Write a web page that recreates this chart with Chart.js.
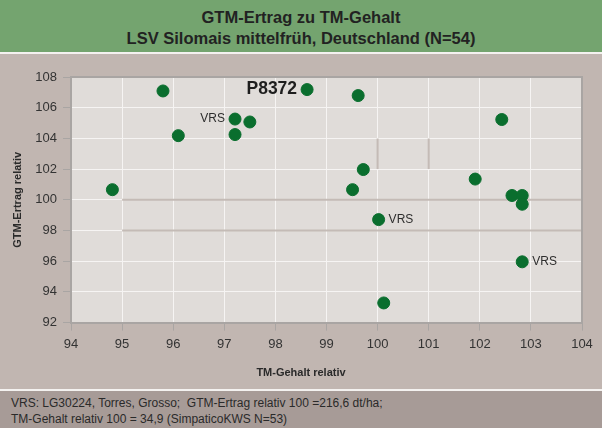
<!DOCTYPE html>
<html>
<head>
<meta charset="utf-8">
<script src="https://cdn.jsdelivr.net/npm/chart.js@4/dist/chart.umd.min.js"></script>
<style>
  html, body { margin: 0; padding: 0; }
  body { width: 602px; height: 428px; position: relative; overflow: hidden; background: #c1b6b1; font-family: "Liberation Sans", Arial, sans-serif; }
  #head { position: absolute; left: 0; top: 0; width: 602px; height: 52px; background: #74a46f; color: #222; font-weight: bold; font-size: 16.5px; line-height: 21px; text-align: center; box-sizing: border-box; padding-top: 7px; }
  #sep1 { position: absolute; left: 0; top: 52px; width: 602px; height: 2px; background: #f4f2f0; }
  #wrap { position: absolute; left: 0; top: 54px; width: 602px; height: 335px; background: #c1b6b1; }
  #sep2 { position: absolute; left: 0; top: 389px; width: 602px; height: 2px; background: #f4f2f0; }
  #foot { position: absolute; left: 0; top: 391px; width: 602px; height: 37px; background: #a79b97; color: #2a2a2a; font-size: 12px; line-height: 16px; padding-left: 11px; box-sizing: border-box; padding-top: 4px; white-space: pre; }
  #xtitle { position: absolute; left: 0; width: 602px; top: 366px; text-align: center; font-weight: bold; font-size: 11px; color: #2a2a2a; }
</style>
</head>
<body>
<div id="head">GTM-Ertrag zu TM-Gehalt<br>LSV Silomais mittelfrüh, Deutschland (N=54)</div>
<div id="sep1"></div>
<div id="wrap"><canvas id="c" width="602" height="335"></canvas></div>
<div id="xtitle">TM-Gehalt relativ</div>
<div id="sep2"></div>
<div id="foot">VRS: LG30224, Torres, Grosso;  GTM-Ertrag relativ 100 =216,6 dt/ha;
TM-Gehalt relativ 100 = 34,9 (SimpaticoKWS N=53)</div>
<script>
// ---- data ----
const tmGehalt  = [94.81, 95.80, 96.10, 97.21, 97.21, 97.50, 98.62, 99.62, 99.72, 99.51, 100.02, 100.12, 101.91, 102.43, 102.63, 102.83, 102.83, 102.83];
const gtmErtrag = [100.66, 107.09, 104.18, 105.26, 104.25, 105.07, 107.18, 106.79, 101.97, 100.66, 98.71, 93.28, 101.35, 105.23, 100.28, 100.28, 99.71, 95.96];
const pointLabels = ["", "", "", "VRS", "", "", "P8372", "", "", "", "VRS", "", "", "", "", "", "", "VRS"];
const labelSide   = ["", "", "", "left", "", "", "left", "", "", "", "right", "", "", "", "", "", "", "right"];
const xTicksMin = 94, xTicksMax = 104, xStep = 1;
const yTicksMin = 92, yTicksMax = 108, yStep = 2;
// darker reference segments seen in the plot
const refSegA = [[95, 100], [104, 100]];
const refSegB = [[95, 98], [104, 98]];
const refSegC = [[100, 102], [100, 104]];
const refSegD = [[101, 102], [101, 104]];

const points = tmGehalt.map((x, i) => ({ x: x, y: gtmErtrag[i] }));
const seg = s => s.map(p => ({ x: p[0], y: p[1] }));
const refStyle = { type: 'line', showLine: true, pointRadius: 0, borderColor: '#c4bbb6', borderWidth: 2, order: 2, fill: false };

const plotDeco = {
  id: 'plotDeco',
  beforeDraw(chart) {
    const { ctx, chartArea: a } = chart;
    ctx.save();
    ctx.fillStyle = '#e0dcd9';
    ctx.fillRect(a.left, a.top, a.right - a.left, a.bottom - a.top);
    ctx.restore();
  },
  afterDraw(chart) {
    const { ctx, chartArea: a } = chart;
    ctx.save();
    ctx.strokeStyle = '#a9a5a3';
    ctx.lineWidth = 2;
    ctx.beginPath();
    ctx.moveTo(a.left, a.top); ctx.lineTo(a.right, a.top); ctx.lineTo(a.right, a.bottom);
    ctx.stroke();
    ctx.restore();
  },
  afterDatasetsDraw(chart) {
    const { ctx } = chart;
    const meta = chart.getDatasetMeta(0);
    ctx.save();
    ctx.textBaseline = 'middle';
    pointLabels.forEach((t, i) => {
      if (!t) return;
      const el = meta.data[i];
      const big = t === 'P8372';
      ctx.font = big ? 'bold 17.5px "Liberation Sans", Arial, sans-serif' : '12px "Liberation Sans", Arial, sans-serif';
      ctx.fillStyle = big ? '#1e1e1e' : '#2e2e2e';
      if (labelSide[i] === 'left') { ctx.textAlign = 'right'; ctx.fillText(t, el.x - 10, el.y); }
      else { ctx.textAlign = 'left'; ctx.fillText(t, el.x + 10, el.y); }
    });
    ctx.restore();
  }
};

new Chart(document.getElementById('c'), {
  type: 'scatter',
  data: {
    datasets: [
      { data: points, backgroundColor: '#0a6e2e', borderColor: '#0a6e2e', pointRadius: 6, pointHoverRadius: 6, order: 0 },
      Object.assign({ data: seg(refSegA) }, refStyle),
      Object.assign({ data: seg(refSegB) }, refStyle),
      Object.assign({ data: seg(refSegC) }, refStyle),
      Object.assign({ data: seg(refSegD) }, refStyle)
    ]
  },
  options: {
    responsive: false,
    animation: false,
    devicePixelRatio: 1,
    layout: { padding: { top: 23, right: 20, left: 0, bottom: 0 } },
    plugins: { legend: { display: false }, tooltip: { enabled: false }, title: { display: false } },
    scales: {
      x: {
        type: 'linear', min: xTicksMin, max: xTicksMax,
        ticks: { stepSize: xStep, color: '#333', font: { size: 13, family: '"Liberation Sans", Arial, sans-serif' }, padding: 6 },
        grid: { color: '#f6f4f3', tickColor: '#a9a5a3', tickLength: 8, lineWidth: 1 },
        border: { display: true, color: '#a9a5a3', width: 2 },
        afterFit(s) { s.height = 66.4; }
      },
      y: {
        type: 'linear', min: yTicksMin, max: yTicksMax,
        ticks: { stepSize: yStep, color: '#333', font: { size: 13, family: '"Liberation Sans", Arial, sans-serif' }, padding: 6 },
        grid: { color: '#f6f4f3', tickColor: '#a9a5a3', tickLength: 8, lineWidth: 1 },
        border: { display: true, color: '#a9a5a3', width: 2 },
        title: { display: true, text: 'GTM-Ertrag relativ', color: '#2a2a2a', font: { size: 11, weight: 'bold', family: '"Liberation Sans", Arial, sans-serif' }, padding: { top: 11, bottom: 0 } },
        afterFit(s) { s.width = 71; }
      }
    }
  },
  plugins: [plotDeco]
});
</script>
</body>
</html>
